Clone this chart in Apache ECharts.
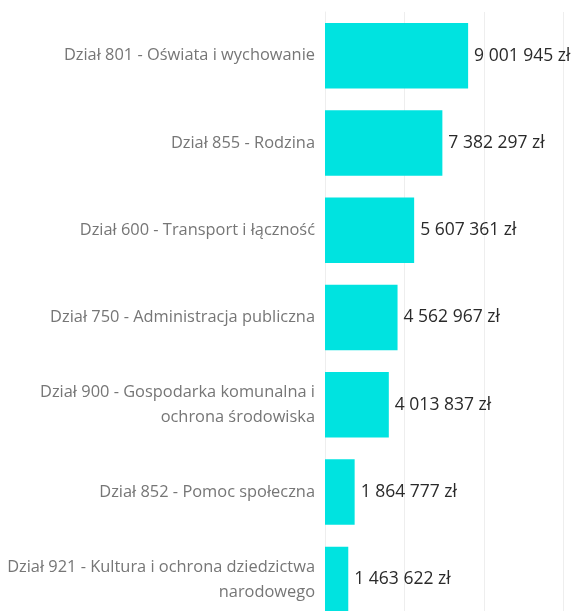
<!DOCTYPE html>
<html><head><meta charset="utf-8">
<script src="https://cdn.jsdelivr.net/npm/echarts@6/dist/echarts.min.js"></script>
<style>html,body{margin:0;padding:0;background:#fff}#c{width:577px;height:611px}</style>
</head><body><div id="c"></div>
<script>
const categories = [
  "Dział 801 - Oświata i wychowanie",
  "Dział 855 - Rodzina",
  "Dział 600 - Transport i łączność",
  "Dział 750 - Administracja publiczna",
  "Dział 900 - Gospodarka komunalna i\nochrona środowiska",
  "Dział 852 - Pomoc społeczna",
  "Dział 921 - Kultura i ochrona dziedzictwa\nnarodowego"
];
const values = [9001945, 7382297, 5607361, 4562967, 4013837, 1864777, 1463622];

function fmt(v){ return String(v).replace(/\B(?=(\d{3})+(?!\d))/g, ' ') + ' zł'; }

const chart = echarts.init(document.getElementById('c'));
chart.setOption({
  animation: false,
  grid: { left: 325, width: 252, top: 12, height: 611, containLabel: false, outerBoundsMode: 'none' },
  xAxis: {
    type: 'value', min: 0, max: 15850000, interval: 5000000,
    axisLabel: { show: false }, axisTick: { show: false },
    axisLine: { show: false },
    splitLine: { show: true, lineStyle: { color: '#eeeeee', width: 1 } }
  },
  yAxis: {
    type: 'category', inverse: true, data: categories,
    axisTick: { show: false },
    axisLine: { show: true, lineStyle: { color: '#eeeeee' } },
    axisLabel: { fontFamily: 'Open Sans', fontSize: 16.4, color: '#767676', margin: 10, lineHeight: 25, align: 'right' }
  },
  series: [{
    type: 'bar', data: values, barCategoryGap: '25%',
    itemStyle: { color: '#00E3E0' },
    label: { show: true, position: 'right', distance: 6, formatter: p => fmt(p.value),
      fontFamily: 'Open Sans', fontSize: 17.5, color: '#2a2a2a' }
  }]
});
</script></body></html>
